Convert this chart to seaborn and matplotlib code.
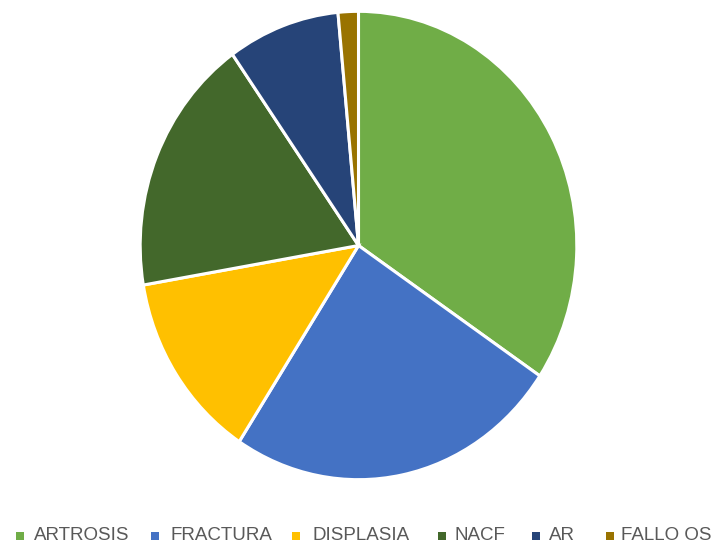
import matplotlib
matplotlib.use("Agg")
import matplotlib.pyplot as plt
import seaborn as sns
from matplotlib.patches import Rectangle

sns.set_theme(style="white")
plt.rcParams['font.family'] = ['Liberation Sans', 'DejaVu Sans']

categories = ["ARTROSIS", "FRACTURA", "DISPLASIA", "NACF", "AR", "FALLO OS"]
values = [34.4, 24.8, 13.1, 17.9, 8.3, 1.5]
colors = ["#70AD47", "#4472C4", "#FFC000", "#43682B", "#264478", "#997300"]

W, H = 715, 544
fig = plt.figure(figsize=(W / 100, H / 100), dpi=100)
ax = fig.add_axes([138 / W, (H - 482) / H, 441 / W, 473 / H])
ax.pie(values, colors=colors, startangle=90, counterclock=False, radius=1,
       wedgeprops=dict(edgecolor="white", linewidth=2.2))
ax.set_xlim(-1.01, 1.01)
ax.set_ylim(-1.01, 1.01)
ax.set_aspect('auto')
ax.axis('off')

# legend layout (pixel positions of each entry)
marker_x = [16, 151, 292, 438, 532, 606]
text_x = [34, 170, 313, 454, 549, 621]
for mx, tx, lab, c in zip(marker_x, text_x, categories, colors):
    fig.patches.append(Rectangle((mx / W, 4 / H), 8 / W, 8 / H, transform=fig.transFigure,
                                 facecolor=c, edgecolor='none'))
    fig.text(tx / W, 3.5 / H, lab, fontsize=13.5, color="#595959", ha='left', va='baseline')

fig.savefig("out.png", dpi=100)
